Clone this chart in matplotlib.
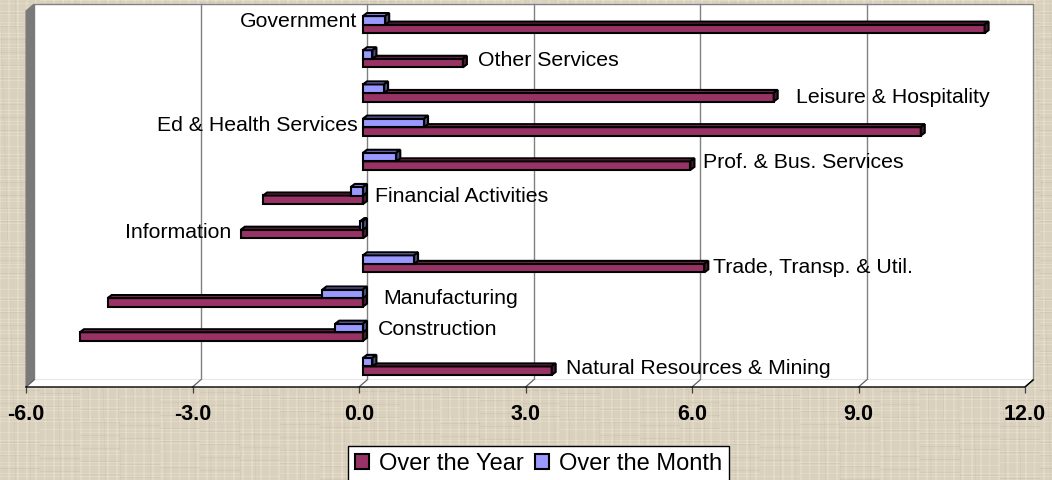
import numpy as np
import matplotlib.pyplot as plt
from matplotlib.patches import Polygon, Patch

plt.rcParams['font.family'] = ['Liberation Sans', 'DejaVu Sans']

# data (bottom to top, as Excel draws the categories)
categories = ["Natural Resources & Mining", "Construction", "Manufacturing",
              "Trade, Transp. & Util.", "Information", "Financial Activities",
              "Prof. & Bus. Services", "Ed & Health Services",
              "Leisure & Hospitality", "Other Services", "Government"]
over_year = [3.4, -5.1, -4.6, 6.15, -2.2, -1.8, 5.9, 10.05, 7.4, 1.8, 11.2]
over_month = [0.17, -0.5, -0.73, 0.92, -0.05, -0.22, 0.6, 1.1, 0.38, 0.17, 0.4]
xticks = [-6.0, -3.0, 0.0, 3.0, 6.0, 9.0, 12.0]

# where Excel put each category label
label_x = [3.73, 0.34, 0.43, 6.38, -2.31, 0.29, 6.2, -0.02, 7.87, 2.14, -0.04]
label_y = [0.03, 1.17, 2.10, 3.01, 4.03, 5.06, 6.08, 7.14, 7.955, 9.04, 10.18]
label_ha = ['left', 'left', 'left', 'left', 'right', 'left', 'left', 'right',
            'left', 'left', 'right']

BG = '#d9d1be'
YEAR = '#993366'
MONTH = '#9999ff'
W, H = 1052, 480

fig = plt.figure(figsize=(W / 100, H / 100), dpi=100, facecolor=BG)

# parchment look: faint woven lines on the background
bg = fig.add_axes([0, 0, 1, 1], zorder=-10)
yy, xx = np.mgrid[0:H, 0:W]
tex = np.zeros((H, W))
tex += 0.035 * ((yy * 37) % 11 < 2)
tex += 0.03 * ((xx * 53) % 9 < 2)
tex -= 0.03 * ((yy * 17 + xx // 40) % 13 == 0)
tex -= 0.02 * ((xx * 29 + yy // 30) % 15 == 0)
base = np.array([0xd9, 0xd1, 0xbe]) / 255.0
img = np.clip(base[None, None, :] + tex[:, :, None], 0, 1)
bg.imshow(img, aspect='auto', interpolation='nearest')
bg.axis('off')

ax = fig.add_axes([26 / W, (H - 387) / H, 999 / W, 376 / H])
ax.set_xlim(-6, 12)
ax.set_ylim(-0.5, 10.5)
ax.patch.set_visible(False)
for s in ax.spines.values():
    s.set_visible(False)

# 3d depth of the plot area, in data units
ppx = 999 / 18.0
ppy = 376 / 11.0
dx, dy = 8 / ppx, 7 / ppy
x0, x1, y0, y1 = -6, 12, -0.5, 10.5

ax.add_patch(Polygon([(x0 + dx, y0 + dy), (x1 + dx, y0 + dy), (x1 + dx, y1 + dy),
                      (x0 + dx, y1 + dy)], closed=True, facecolor='white',
                     edgecolor='#808080', lw=1.0, zorder=0, clip_on=False))
ax.add_patch(Polygon([(x0, y0), (x0 + dx, y0 + dy), (x0 + dx, y1 + dy), (x0, y1)],
                     closed=True, facecolor='#7a7a7a', edgecolor='#7a7a7a',
                     lw=0.8, zorder=1, clip_on=False))
ax.add_patch(Polygon([(x0, y0), (x1, y0), (x1 + dx, y0 + dy), (x0 + dx, y0 + dy)],
                     closed=True, facecolor='white', edgecolor='none',
                     zorder=1, clip_on=False))
for t in xticks[1:-1]:
    ax.plot([t + dx, t + dx], [y0 + dy, y1 + dy], color='#808080', lw=1.0,
            zorder=0.5, clip_on=False)
for t in xticks:
    ax.plot([t, t + dx], [y0, y0 + dy], color='#606060', lw=0.9,
            zorder=1.5, clip_on=False)
ax.plot([x0, x1, x1 + dx], [y0, y0, y0 + dy], color='black', lw=1.0,
        zorder=2, clip_on=False)

# bars sit half way into the depth
bx, by = dx / 2, dy / 2
ddx, ddy = 4 / ppx, 3 / ppy
h = 0.25
idx = list(range(len(categories)))


def bar3d(values, bottoms, front, top, side, z):
    ax.barh([b + by for b in bottoms], values, height=h, left=bx, align='edge',
            color=front, edgecolor='black', lw=1.5, zorder=z)
    for v, b in zip(values, bottoms):
        l = min(0, v) + bx
        r = max(0, v) + bx
        yb = b + by
        yt = yb + h
        ax.add_patch(Polygon([(l, yt), (r, yt), (r + ddx, yt + ddy), (l + ddx, yt + ddy)],
                             closed=True, facecolor=top, edgecolor='black',
                             lw=1.5, zorder=z))
        ax.add_patch(Polygon([(r, yb), (r + ddx, yb + ddy), (r + ddx, yt + ddy), (r, yt)],
                             closed=True, facecolor=side, edgecolor='black',
                             lw=1.5, zorder=z))


bar3d(over_year, [i - h for i in idx], YEAR, '#7d2a53', '#4d1a33', 3)
bar3d(over_month, idx, MONTH, '#8585e6', '#4d4d80', 4)

for name, lx, ly, ha in zip(categories, label_x, label_y, label_ha):
    ax.text(lx, ly, name, ha=ha, va='center', fontsize=15.3, zorder=6)

ax.set_yticks([])
ax.set_xticks(xticks)
ax.set_xticklabels([f'{t:.1f}' for t in xticks], fontsize=15.5, fontweight='bold')
ax.tick_params(axis='x', length=4, width=0.9, color='#404040', pad=8)

handles = [Patch(facecolor=YEAR, edgecolor='black', lw=1.5),
           Patch(facecolor=MONTH, edgecolor='black', lw=1.5)]
leg = fig.legend(handles, ['Over the Year', 'Over the Month'], loc='upper left',
                 bbox_to_anchor=(348 / W, 1 - 446 / H), ncol=2, fontsize=17,
                 frameon=True, fancybox=False, edgecolor='black', facecolor='white',
                 framealpha=1, handlelength=0.6, handleheight=0.6,
                 handletextpad=0.4, columnspacing=0.5, borderpad=0.3,
                 borderaxespad=0)
leg.get_frame().set_linewidth(1.0)

fig.savefig('out.png', dpi=100, facecolor=BG)
